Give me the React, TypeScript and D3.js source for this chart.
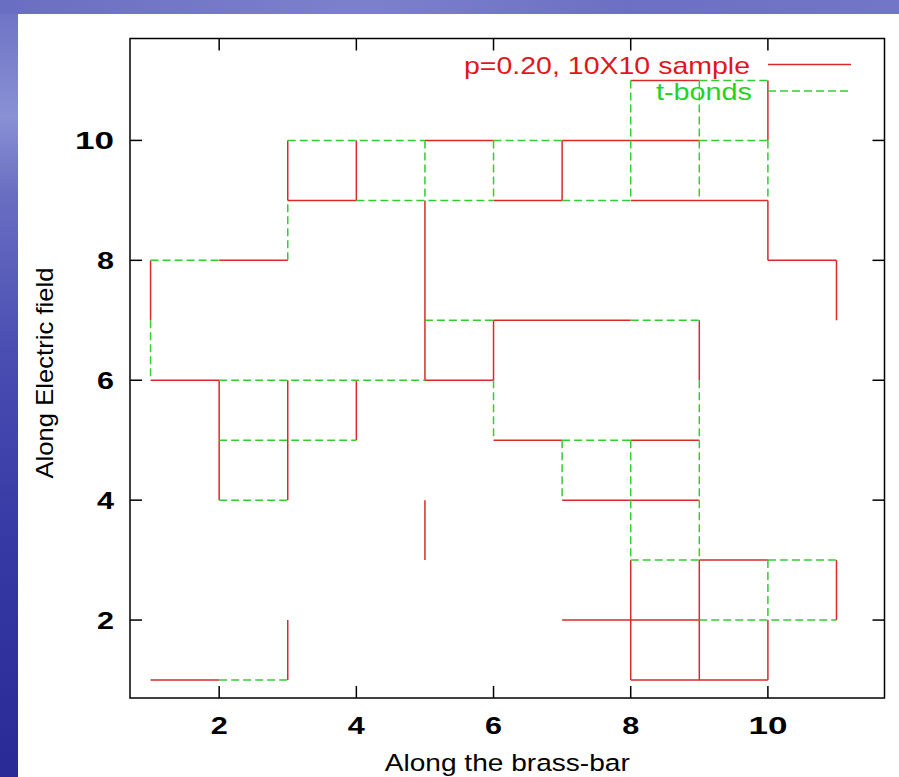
import React from "react";
import * as d3 from "d3";

// Data (grid coordinates): [x1, y1, x2, y2]
const sampleSegments: number[][] = [
  [1, 8, 1, 7], [2, 8, 3, 8], [3, 9, 3, 10], [3, 9, 4, 9], [4, 9, 4, 10],
  [5, 10, 6, 10], [7, 10, 9, 10], [7, 9, 7, 10], [6, 9, 7, 9], [8, 9, 10, 9],
  [5, 9, 5, 6], [10, 11, 10, 10], [10, 9, 10, 8], [10, 8, 11, 8], [11, 8, 11, 7],
  [6, 7, 8, 7], [6, 7, 6, 6], [9, 7, 9, 6], [1, 6, 2, 6], [5, 6, 6, 6],
  [2, 6, 2, 4], [3, 6, 3, 4], [4, 6, 4, 5], [6, 5, 7, 5], [8, 5, 9, 5],
  [7, 4, 9, 4], [5, 4, 5, 3], [8, 3, 8, 1], [9, 3, 9, 1], [9, 3, 10, 3],
  [10, 2, 10, 1], [11, 3, 11, 2], [7, 2, 9, 2], [1, 1, 2, 1], [8, 1, 10, 1],
  [3, 2, 3, 1], [8, 11, 9, 11],
];

const tBondSegments: number[][] = [
  [1, 7, 1, 6], [1, 8, 2, 8], [3, 8, 3, 9], [3, 10, 5, 10], [4, 9, 6, 9],
  [7, 9, 8, 9], [5, 10, 5, 9], [6, 10, 6, 9], [6, 10, 7, 10], [9, 10, 10, 10],
  [8, 11, 8, 9], [9, 11, 9, 9], [10, 10, 10, 9], [9, 11, 10, 11], [5, 7, 6, 7],
  [8, 7, 9, 7], [2, 6, 5, 6], [6, 6, 6, 5], [9, 6, 9, 3], [2, 5, 4, 5],
  [2, 4, 3, 4], [7, 5, 8, 5], [7, 5, 7, 4], [8, 5, 8, 3], [8, 3, 9, 3],
  [10, 3, 11, 3], [10, 3, 10, 2], [9, 2, 11, 2], [2, 1, 3, 1],
];

const xTicks = [2, 4, 6, 8, 10];
const yTicks = [2, 4, 6, 8, 10];
const xDomain = [0.7, 11.7];
const yDomain = [0.7, 11.7];
const legendLabels = ["p=0.20, 10X10 sample", "t-bonds"];
const xTitle = "Along the brass-bar";
const yTitle = "Along Electric field";

const RED = "#d82a2a";
const GREEN = "#33cc33";
const RED_TEXT = "#e3141c";
const GREEN_TEXT = "#1fd41f";

export default function App() {
  const left = 130, right = 884.5, top = 38.5, bottom = 698;
  const x = d3.scaleLinear().domain(xDomain).range([left, right]);
  const y = d3.scaleLinear().domain(yDomain).range([bottom, top]);
  const tickLen = 12;
  const font = "'Liberation Sans', Arial, Helvetica, sans-serif";
  const tickW = (s: string) => (s.length === 1 ? 17 : 39);

  const seg = (s: number[], color: string, dashed: boolean, key: string) => (
    <line
      key={key}
      x1={x(s[0])}
      y1={y(s[1])}
      x2={x(s[2])}
      y2={y(s[3])}
      stroke={color}
      strokeWidth={1.5}
      strokeDasharray={dashed ? "8,4" : undefined}
    />
  );

  return (
    <div style={{ position: "absolute", left: 0, top: 0 }}>
      <svg width={899} height={777} style={{ display: "block" }}>
        <defs>
          <linearGradient id="leftBg" x1="0" y1="0" x2="0" y2="1">
            <stop offset="0" stopColor="#6c70c4" />
            <stop offset="0.15" stopColor="#8a90d4" />
            <stop offset="0.25" stopColor="#6a6ec2" />
            <stop offset="0.45" stopColor="#4a4eb2" />
            <stop offset="0.7" stopColor="#3638a4" />
            <stop offset="1" stopColor="#2a2a96" />
          </linearGradient>
          <linearGradient id="topBg" x1="0" y1="0" x2="1" y2="0">
            <stop offset="0" stopColor="#6a6ec2" />
            <stop offset="0.4" stopColor="#7c80cc" />
            <stop offset="0.7" stopColor="#6c70c4" />
            <stop offset="1" stopColor="#7276c8" />
          </linearGradient>
        </defs>
        <rect x={0} y={0} width={899} height={777} fill="url(#leftBg)" />
        <rect x={0} y={0} width={899} height={14} fill="url(#topBg)" />
        <rect x={18} y={14} width={881} height={763} fill="#ffffff" />

        {/* data */}
        {sampleSegments.map((s, i) => seg(s, RED, false, "r" + i))}
        {tBondSegments.map((s, i) => seg(s, GREEN, true, "g" + i))}

        {/* frame */}
        <rect x={left} y={top} width={right - left} height={bottom - top} fill="none" stroke="#000" strokeWidth={1.5} />
        {xTicks.map((t) => (
          <g key={"xt" + t}>
            <line x1={x(t)} x2={x(t)} y1={bottom} y2={bottom - tickLen} stroke="#000" strokeWidth={1.5} />
            <line x1={x(t)} x2={x(t)} y1={top} y2={top + tickLen} stroke="#000" strokeWidth={1.5} />
            <text
              x={x(t)}
              y={733.5}
              textAnchor="middle"
              fontFamily={font}
              fontWeight="bold"
              fontSize={24}
              textLength={tickW(String(t))}
              lengthAdjust="spacingAndGlyphs"
              fill="#000"
            >
              {t}
            </text>
          </g>
        ))}
        {yTicks.map((t) => (
          <g key={"yt" + t}>
            <line x1={left} x2={left + tickLen} y1={y(t)} y2={y(t)} stroke="#000" strokeWidth={1.5} />
            <line x1={right} x2={right - tickLen} y1={y(t)} y2={y(t)} stroke="#000" strokeWidth={1.5} />
            <text
              x={114}
              y={y(t)}
              dy="0.36em"
              textAnchor="end"
              fontFamily={font}
              fontWeight="bold"
              fontSize={24}
              textLength={tickW(String(t))}
              lengthAdjust="spacingAndGlyphs"
              fill="#000"
            >
              {t}
            </text>
          </g>
        ))}

        {/* axis titles */}
        <text
          x={(left + right) / 2}
          y={771}
          textAnchor="middle"
          fontFamily={font}
          fontSize={24.5}
          textLength={245}
          lengthAdjust="spacingAndGlyphs"
          fill="#000"
        >
          {xTitle}
        </text>
        <text
          transform={`translate(52.5, 373) rotate(-90)`}
          textAnchor="middle"
          fontFamily={font}
          fontSize={24.5}
          textLength={211}
          lengthAdjust="spacingAndGlyphs"
          fill="#000"
        >
          {yTitle}
        </text>

        {/* legend */}
        <text x={750} y={74} textAnchor="end" fontFamily={font} fontSize={24}
          textLength={286} lengthAdjust="spacingAndGlyphs" fill={RED_TEXT}>
          {legendLabels[0]}
        </text>
        <line x1={768} x2={851} y1={64.5} y2={64.5} stroke={RED} strokeWidth={1.5} />
        <text x={752} y={100} textAnchor="end" fontFamily={font} fontSize={24}
          textLength={96} lengthAdjust="spacingAndGlyphs" fill={GREEN_TEXT}>
          {legendLabels[1]}
        </text>
        <line x1={768} x2={851} y1={91} y2={91} stroke={GREEN} strokeWidth={1.5} strokeDasharray="8,4" />
      </svg>
    </div>
  );
}
